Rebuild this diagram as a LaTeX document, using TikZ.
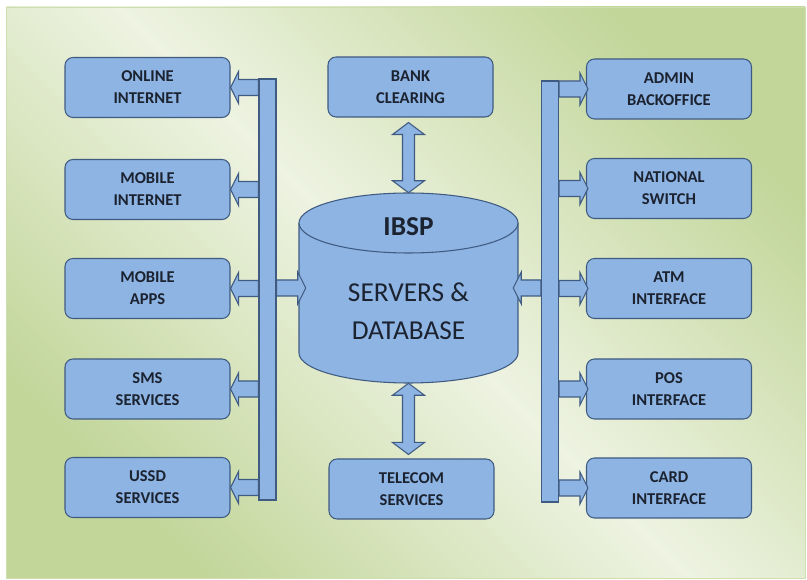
\documentclass[tikz,border=0pt]{standalone}
\usepackage{fontspec}
\setmainfont{Carlito}
\usetikzlibrary{calc}

\definecolor{boxblue}{HTML}{8EB4E3}
\definecolor{boxline}{HTML}{3F5B82}
\definecolor{boxtext}{HTML}{1B2230}
\definecolor{bgpale}{HTML}{EEF3E2}
\definecolor{bggreen}{HTML}{C2D69A}

% block arrow: tail x from #1, tip at #2, #3 = +1 right / -1 left
\newcommand{\harrow}[3]{%
  \draw[blockarr] let \p1=(#1), \p2=(#2), \n1={(#3)*6} in
    (\x1,\y2+6pt) -- ({\x2-\n1*1pt},\y2+6pt) -- ({\x2-\n1*1pt},\y2+12pt) -- (\x2,\y2)
    -- ({\x2-\n1*1pt},\y2-12pt) -- ({\x2-\n1*1pt},\y2-6pt) -- (\x1,\y2-6pt) -- cycle;}
% vertical double arrow: top tip #1, bottom tip y from #2
\newcommand{\varrow}[2]{%
  \draw[blockarr] let \p1=(#1), \p2=(#2) in
    (\x1,\y1) -- (\x1+12pt,\y1-9pt) -- (\x1+4.5pt,\y1-9pt) -- (\x1+4.5pt,\y2+9pt)
    -- (\x1+12pt,\y2+9pt) -- (\x1,\y2) -- (\x1-12pt,\y2+9pt) -- (\x1-4.5pt,\y2+9pt)
    -- (\x1-4.5pt,\y1-9pt) -- (\x1-12pt,\y1-9pt) -- cycle;}

\begin{document}
\begin{tikzpicture}[x=0.75pt, y=-0.75pt,
    sysbox/.style={draw=boxline, fill=boxblue, rounded corners=6pt, line width=0.8pt,
      minimum width=123.75pt, minimum height=45pt, align=center, text=boxtext,
      font=\bfseries\fontsize{12.4}{16.5}\selectfont},
    bus/.style={draw=boxline, fill=boxblue, line width=0.8pt, inner sep=0pt,
      minimum width=12.75pt, minimum height=315.75pt},
    blockarr/.style={draw=boxline, fill=boxblue, line width=0.8pt, line join=miter},
    dbtext/.style={text=boxtext, align=center, inner sep=0pt}]
    \useasboundingbox (0,0) rectangle (807,580);

    % Background panel
    \shade[top color=bggreen, bottom color=bggreen, middle color=bgpale, shading angle=-45]
        (6,7) rectangle (805,578);
    \draw[draw=bggreen!80!white, line width=0.6pt] (6,7) rectangle (805,578);

    % LEFT: channels
    \node[sysbox] (online) at (147.5,87.5) {ONLINE\\INTERNET};
    \node[sysbox] (mobint) at (147.5,189.5) {MOBILE\\INTERNET};
    \node[sysbox] (mobapp) at (147.5,288.5) {MOBILE\\APPS};
    \node[sysbox] (sms) at (147.5,389) {SMS\\SERVICES};
    \node[sysbox] (ussd) at (147.5,487.5) {USSD\\SERVICES};

    % MIDDLE: core
    \node[sysbox] (bank) at (410.5,87) {BANK\\CLEARING};
    \node[sysbox] (telecom) at (411.5,489) {TELECOM\\SERVICES};
    % Database cylinder
    \node[minimum width=164.25pt, minimum height=142.5pt, inner sep=0pt] (db) at (408.5,288) {};
    \fill[boxblue] (299,223) -- (299,353) arc[start angle=180, end angle=0, x radius=109.5, y radius=30]
        -- (518,223) -- cycle;
    \draw[boxline, line width=0.8pt] (299,223) -- (299,353)
        arc[start angle=180, end angle=0, x radius=109.5, y radius=30] -- (518,223);
    \draw[boxline, fill=boxblue, line width=0.8pt] (408.5,223) ellipse[x radius=109.5, y radius=30];
    \node[dbtext, font=\bfseries\fontsize{20.5}{24}\selectfont] (ibsp) at ($(db.north)+(0,34)$) {IBSP};
    \node[dbtext, font=\fontsize{20.5}{28.5}\selectfont] (srv) at ($(db.center)+(0,23)$) {SERVERS \&\\DATABASE};

    % RIGHT: interfaces
    \node[sysbox] (admin) at (669,89) {ADMIN\\BACKOFFICE};
    \node[sysbox] (natsw) at (669,188.5) {NATIONAL\\SWITCH};
    \node[sysbox] (atm) at (669,288.5) {ATM\\INTERFACE};
    \node[sysbox] (pos) at (669,389) {POS\\INTERFACE};
    \node[sysbox] (card) at (669,488) {CARD\\INTERFACE};

    % Buses
    \node[bus] (lbus) at (267.5,289.5) {};
    \node[bus] (rbus) at (550,291.5) {};

    % Arrows left
    \foreach \chan in {online,mobint,mobapp,sms,ussd}
        {\harrow{lbus.west}{\chan.east}{-1}}
    \harrow{lbus.east}{[xshift=5.25pt]db.west}{1}
    % Arrows right
    \foreach \chan in {admin,natsw,atm,pos,card}
        {\harrow{rbus.east}{[xshift=1.5pt]\chan.west}{1}}
    \harrow{rbus.west}{[xshift=-3.75pt]db.east}{-1}
    % Arrows top / bottom
    \varrow{$(bank.south -| db.north)+(0,5)$}{db.north}
    \varrow{db.south}{$(telecom.north -| db.south)+(0,-4)$}
\end{tikzpicture}
\end{document}
